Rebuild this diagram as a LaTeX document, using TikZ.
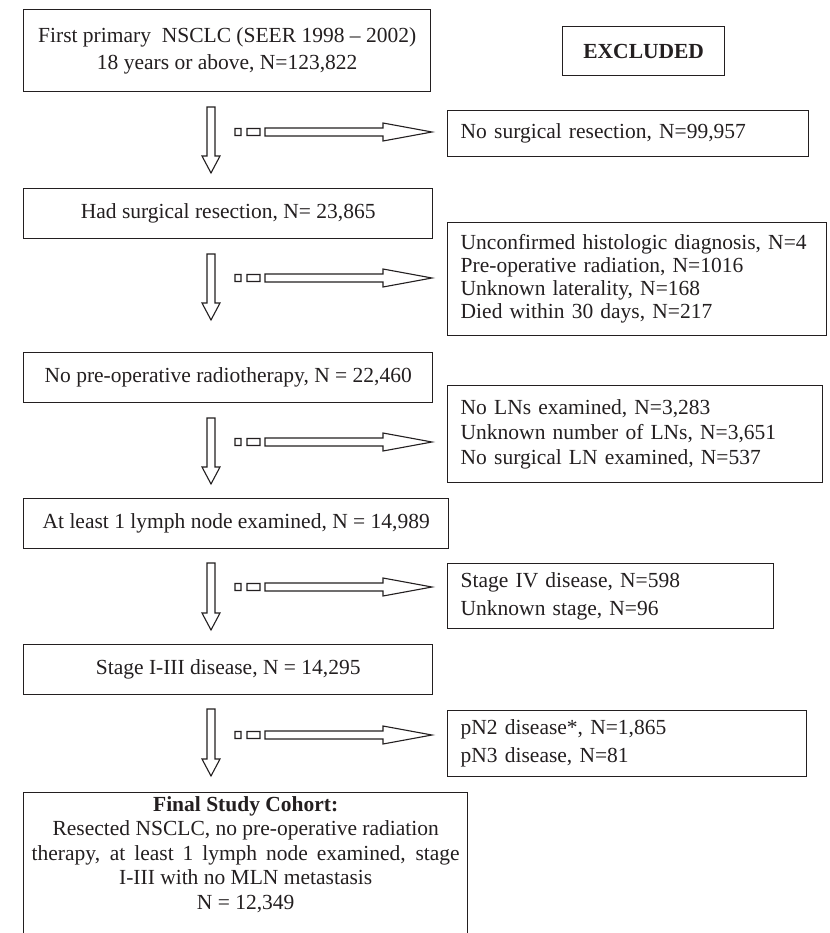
\documentclass[tikz,border=0pt]{standalone}
\usepackage{fontspec}
\setmainfont{Liberation Serif}
\usetikzlibrary{calc}
\definecolor{ink}{HTML}{231F20}
\newcommand{\dnarr}[2]{\draw[blkarrow] let \p1=(#1), \p2=(#2) in
  (\x1-4pt,\y1) -- (\x1+4pt,\y1) -- (\x1+4pt,\y2+17pt) -- (\x1+9pt,\y2+17pt) --
  (\x2,\y2) -- (\x1-9pt,\y2+17pt) -- (\x1-4pt,\y2+17pt) -- cycle;}
\newcommand{\rtarr}[2]{\draw[blkarrow] let \p1=(#1), \p2=(#2) in
  (\x1,\y1-3.5pt) rectangle (\x1+6pt,\y1+3.5pt)
  (\x1+12pt,\y1-3.5pt) rectangle (\x1+25pt,\y1+3.5pt)
  (\x1+30pt,\y1+4pt) -- (\x2-49pt,\y1+4pt) -- (\x2-49pt,\y1+9pt) -- (\x2,\y2) --
  (\x2-49pt,\y1-9pt) -- (\x2-49pt,\y1-4pt) -- (\x1+30pt,\y1-4pt) -- cycle;}
\begin{document}
\begin{tikzpicture}[x=1pt,y=-1pt,
  txt/.style={font=\fontsize{21.5}{23}\selectfont, text=ink},
  mainbox/.style={txt, draw=ink, line width=1.4pt, align=center, inner sep=0pt, anchor=north west, minimum height=50pt},
  exbox/.style={txt, draw=ink, line width=1.4pt, align=left, inner xsep=13pt, inner ysep=0pt, anchor=north west},
  blkarrow/.style={draw=ink, line width=1.1pt}]
\useasboundingbox (0,0) rectangle (829,933);
\clip (0,0) rectangle (829,933);
\fill[white] (0,0) rectangle (829,933);
% left column
\node[mainbox, minimum width=407pt, minimum height=82pt] (b1) at (23,9)
  {First primary\ \ NSCLC (SEER 1998 – 2002)\\[4pt]18 years or above, N=123,822};
\node[mainbox, minimum width=409pt] (b2) at (23,188) {Had surgical resection, N= 23,865};
\node[mainbox, minimum width=409pt] (b3) at (23,352) {No pre-operative radiotherapy, N = 22,460};
\node[mainbox, minimum width=425pt] (b4) at (23,498) {At least 1 lymph node examined, N = 14,989};
\node[mainbox, minimum width=409pt] (b5) at (23,644) {Stage I-III disease, N = 14,295};
\node[draw=ink, line width=1.4pt, anchor=north west, minimum width=444pt, minimum height=200pt] (b6) at (23,792) {};
\node[txt, align=center, anchor=north, inner sep=0pt, font=\fontsize{21.5}{24.5}\selectfont] (b6t) at ($(b6.north)+(0,4)$)
  {\textbf{Final Study Cohort:}\\Resected NSCLC, no pre-operative radiation\\
   \makebox[428pt][s]{therapy, at least 1 lymph node examined, stage}\\
   I-III with no MLN metastasis\\N = 12,349};
% right column
\node[txt, draw=ink, line width=1.4pt, anchor=north west, minimum width=162pt, minimum height=49pt, inner sep=0pt, font=\fontsize{21.5}{23}\selectfont\bfseries] (ex) at (562,26) {EXCLUDED};
\node[exbox, text width=335pt, minimum height=46pt] (r1) at (447,110) {No surgical resection, N=99,957};
\node[exbox, text width=353pt, minimum height=113pt] (r2) at (447,222)
  {Unconfirmed histologic diagnosis, N=4\\Pre-operative radiation, N=1016\\Unknown laterality, N=168\\Died within 30 days, N=217};
\node[exbox, text width=349pt, minimum height=97pt, font=\fontsize{21.5}{25}\selectfont] (r3) at (447,385)
  {No LNs examined, N=3,283\\Unknown number of LNs, N=3,651\\No surgical LN examined, N=537};
\node[exbox, text width=300pt, minimum height=65pt, font=\fontsize{21.5}{28}\selectfont] (r4) at (447,563)
  {Stage IV disease, N=598\\Unknown stage, N=96};
\node[exbox, text width=333pt, minimum height=66pt, font=\fontsize{21.5}{28}\selectfont] (r5) at (447,710)
  {pN2 disease*, N=1,865\\pN3 disease, N=81};
% arrow end points
\coordinate (d1a) at (211,107); \coordinate (d1b) at (211,173);
\coordinate (d2a) at (211,254); \coordinate (d2b) at (211,320);
\coordinate (d3a) at (211,418); \coordinate (d3b) at (211,484);
\coordinate (d4a) at (211,563); \coordinate (d4b) at (211,630);
\coordinate (d5a) at (211,709); \coordinate (d5b) at (211,776);
\coordinate (h1a) at (235,132); \coordinate (h1b) at (432,132);
\coordinate (h2a) at (235,278); \coordinate (h2b) at (432,278);
\coordinate (h3a) at (235,442); \coordinate (h3b) at (432,442);
\coordinate (h4a) at (235,587); \coordinate (h4b) at (432,587);
\coordinate (h5a) at (235,735); \coordinate (h5b) at (432,735);
\dnarr{d1a}{d1b} \dnarr{d2a}{d2b} \dnarr{d3a}{d3b} \dnarr{d4a}{d4b} \dnarr{d5a}{d5b}
\rtarr{h1a}{h1b} \rtarr{h2a}{h2b} \rtarr{h3a}{h3b} \rtarr{h4a}{h4b} \rtarr{h5a}{h5b}
\end{tikzpicture}
\end{document}
